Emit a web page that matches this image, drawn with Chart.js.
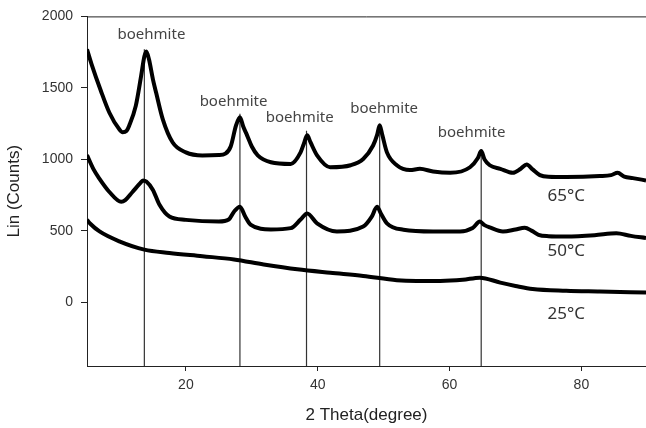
<!DOCTYPE html>
<html><head><meta charset="utf-8">
<script src="https://cdn.jsdelivr.net/npm/chart.js@4"></script>
<style>html,body{margin:0;padding:0;background:#fff}#wrap{width:646px;height:428px}</style>
</head><body><div id="wrap"><canvas id="c" width="646" height="428"></canvas></div>
<script>
// ---- data ----
const theta65  = [5.0,5.7,7.1,8.4,9.9,10.4,11.0,11.4,12.4,13.2,13.7,14.0,14.4,15.0,15.5,16.5,18.0,20.0,22.5,25.0,26.0,26.8,27.6,28.2,28.7,29.3,30.0,30.9,32.9,35.9,37.4,37.9,38.4,38.9,39.9,41.9,45.0,46.9,48.4,49.0,49.4,49.8,50.5,52.0,54.0,55.5,57.5,60.1,63.1,64.3,64.8,65.3,66.1,67.7,69.6,70.8,71.7,72.6,73.7,75.0,77.7,82.8,84.5,85.5,86.5,87.8,89.8];
const counts65 = [1770,1665,1480,1326,1210,1190,1200,1236,1374,1581,1720,1755,1700,1560,1464,1280,1118,1049,1028,1030,1040,1090,1236,1295,1230,1166,1090,1028,980,968,1049,1110,1168,1120,1028,945,959,1003,1097,1170,1238,1170,1049,959,925,934,915,906,945,1010,1058,1000,959,934,906,935,965,930,890,878,876,883,890,906,880,869,853];

const theta50  = [5.0,6.0,6.9,8.4,10.2,10.8,11.9,13.0,13.5,14.0,15.0,16.0,17.5,20.0,25.0,26.5,27.3,28.2,29.0,29.8,32.9,35.9,37.4,38.4,39.9,42.9,46.9,48.2,49.0,49.6,50.5,53.0,57.5,61.6,63.5,64.6,65.3,66.1,68.1,70.0,71.4,72.5,73.5,75.0,77.7,82.0,85.3,87.5,89.8];
const counts50 = [1030,930,864,772,703,715,772,830,853,845,786,682,600,577,565,579,634,669,600,544,510,519,579,622,553,496,530,600,669,620,553,508,496,496,520,565,540,524,496,510,522,500,472,463,461,470,484,465,450];

const theta25  = [5.0,5.5,6.9,9.9,13.7,17.5,22.5,27.3,31.8,36.9,41.9,46.9,52.0,55.0,58.6,62.0,64.6,67.7,70.0,72.6,77.7,82.8,89.8];
const counts25 = [577,550,496,427,369,346,323,300,265,231,207,185,155,150,150,158,173,138,115,93,81,76,69];

const seriesNames = ['65°C','50°C','25°C'];
const xTicks = [20,40,60,80];
const yTicks = [0,500,1000,1500,2000];

const peakTheta = [13.7,28.2,38.3,49.4,64.8];
const peakTop   = [1770,1320,1200,1245,1065];
const peakName  = 'boehmite';

// annotation anchors (data coordinates)
const peakLabelTheta  = [14.78,27.23,37.27,50.08,63.34];
const peakLabelCounts = [1844,1376,1261,1326,1160];
const seriesLabelTheta  = [77.7,77.7,77.7];
const seriesLabelCounts = [708,323,-115];

const X_MIN = 5, X_MAX = 89.8, Y_MIN = -445, Y_MAX = 2000;

// ---- build datasets ----
const zip = (xs, ys) => xs.map((x,i)=>({x, y: ys[i]}));
const curve = (label, xs, ys) => ({
  label, data: zip(xs, ys), showLine: true, pointRadius: 0,
  borderColor: '#000', borderWidth: 4, cubicInterpolationMode: 'monotone', order: 1
});
const datasets = [
  curve(seriesNames[0], theta65, counts65),
  curve(seriesNames[1], theta50, counts50),
  curve(seriesNames[2], theta25, counts25)
];
peakTheta.forEach((t,i)=>{
  datasets.push({label: peakName + ' ' + t, data: [{x:t,y:Y_MIN},{x:t,y:peakTop[i]}],
    showLine: true, pointRadius: 0, borderColor: '#333', borderWidth: 1.2, order: 2});
});

const axisColor = '#222';
const annotPlugin = {
  id: 'annot',
  afterDraw(chart){
    const {ctx, chartArea, scales:{x, y}} = chart;
    ctx.save();
    ctx.strokeStyle = axisColor; ctx.lineWidth = 1;
    ctx.beginPath(); ctx.moveTo(chartArea.left, chartArea.top + 0.5); ctx.lineTo(chartArea.right, chartArea.top + 0.5); ctx.stroke();
    ctx.textAlign = 'center'; ctx.textBaseline = 'alphabetic';
    ctx.fillStyle = '#444';
    ctx.font = '15px "Noto Sans"';
    peakLabelTheta.forEach((t,i)=>{
      ctx.fillText(peakName, x.getPixelForValue(t), y.getPixelForValue(peakLabelCounts[i]));
    });
    ctx.fillStyle = '#333';
    ctx.font = '17px "Noto Sans"';
    seriesNames.forEach((n,i)=>{
      ctx.fillText(n, x.getPixelForValue(seriesLabelTheta[i]), y.getPixelForValue(seriesLabelCounts[i]));
    });
    ctx.restore();
  }
};

const tickFont = { family: 'Liberation Sans', size: 14 };
new Chart(document.getElementById('c'), {
  type: 'scatter',
  data: { datasets },
  options: {
    responsive: false, animation: false, devicePixelRatio: 1,
    layout: { padding: { top: 13, right: 0, left: 0, bottom: 0 } },
    plugins: { legend: { display: false }, tooltip: { enabled: false } },
    scales: {
      x: {
        type: 'linear', min: X_MIN, max: X_MAX,
        afterBuildTicks: s => { s.ticks = xTicks.map(v=>({value:v})); },
        afterFit: s => { s.height = 62; },
        grid: { drawOnChartArea: false, drawTicks: true, tickLength: 5, color: axisColor },
        border: { display: true, color: axisColor, width: 1 },
        ticks: { color: '#333', font: tickFont, padding: 6, maxRotation: 0, callback: v => String(v) },
        title: { display: true, text: '2 Theta(degree)', color: '#222',
                 font: { family: 'Liberation Sans', size: 17 }, padding: { top: 0, bottom: 2 } }
      },
      y: {
        type: 'linear', min: Y_MIN, max: Y_MAX,
        afterBuildTicks: s => { s.ticks = yTicks.map(v=>({value:v})); },
        afterFit: s => { s.width = 87; },
        grid: { drawOnChartArea: false, drawTicks: true, tickLength: 6, color: axisColor },
        border: { display: true, color: axisColor, width: 1 },
        ticks: { color: '#333', font: tickFont, padding: 8, callback: v => String(v) },
        title: { display: true, text: 'Lin (Counts)', color: '#222',
                 font: { family: 'Liberation Sans', size: 17 }, padding: { top: 4, bottom: 0 } }
      }
    }
  },
  plugins: [annotPlugin]
});
</script>
</body></html>
